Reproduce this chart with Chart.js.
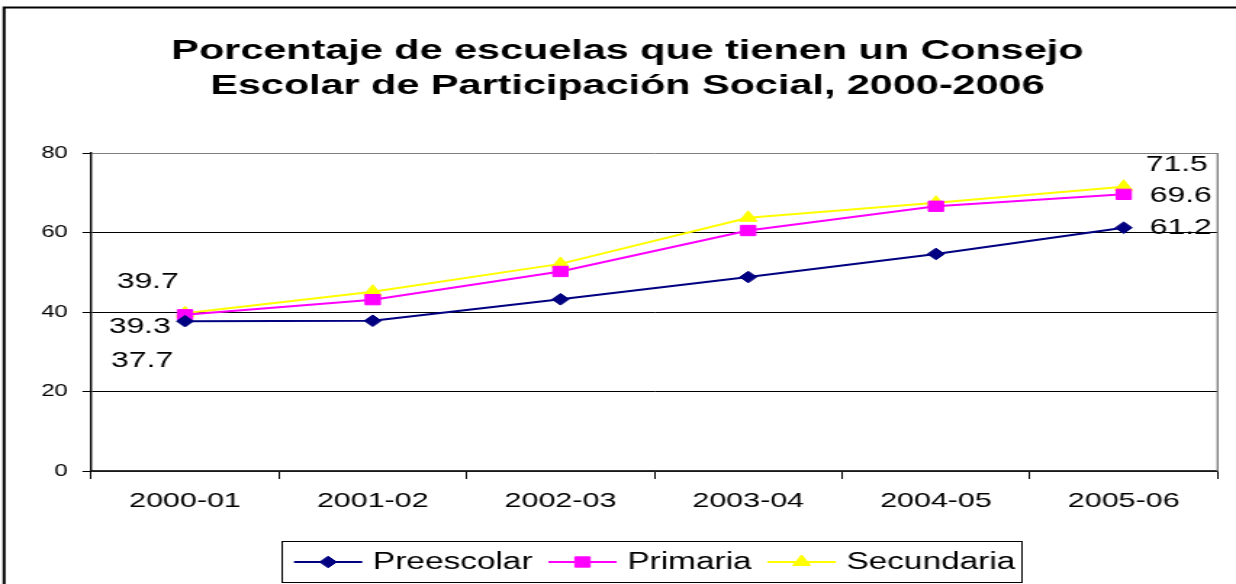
<!DOCTYPE html>
<html>
<head>
<meta charset="utf-8">
<script src="https://cdn.jsdelivr.net/npm/chart.js@4/dist/chart.umd.min.js"></script>
<style>
  html, body { margin: 0; padding: 0; background: #fff; }
  #c { display: block; width: 1236px; height: 584px; }
</style>
</head>
<body>
<canvas id="c" width="852" height="584" style="width:1236px;height:584px;"></canvas>
<script>
// ---- data ----
const titleLines = ['Porcentaje de escuelas que tienen un Consejo', 'Escolar de Participación Social, 2000-2006'];
const categories = ['2000-01', '2001-02', '2002-03', '2003-04', '2004-05', '2005-06'];
const seriesNames = ['Preescolar', 'Primaria', 'Secundaria'];
const preescolar = [37.7, 37.8, 43.2, 48.8, 54.6, 61.2];
const primaria   = [39.3, 43.1, 50.2, 60.5, 66.6, 69.6];
const secundaria = [39.7, 45.1, 52.1, 63.7, 67.5, 71.5];
const yTicks = [0, 20, 40, 60, 80];

// ---- layout / style ----
const FONT = '"Liberation Sans", Arial, sans-serif';
const colors = ['#000080', '#FF00FF', '#FFFF00'];
const pStyles = ['rectRot', 'rect', 'triangle'];
const pRadius = [5.8, 7.3, 7];
// label offsets (internal px) for first and last point of each series
const labelOffsets = [
  { first: [-29.5, 39], last: [39.3, -1] },
  { first: [-31.2, 11], last: [39.3, 1] },
  { first: [-25.7, -32], last: [36.5, -23] }
];

const bgPlugin = {
  id: 'bg',
  beforeDraw(chart) {
    const ctx = chart.ctx;
    ctx.save();
    ctx.fillStyle = '#fff';
    ctx.fillRect(0, 0, chart.width, chart.height);
    ctx.strokeStyle = '#000';
    ctx.lineWidth = 2;
    ctx.beginPath();
    ctx.moveTo(2.8, chart.height + 5);
    ctx.lineTo(2.8, 7.5);
    ctx.lineTo(chart.width + 5, 7.5);
    ctx.stroke();
    // title
    ctx.fillStyle = '#000';
    ctx.font = 'bold 28.5px ' + FONT;
    ctx.textAlign = 'center';
    ctx.textBaseline = 'alphabetic';
    ctx.fillText(titleLines[0], 432.5, 58.5);
    ctx.fillText(titleLines[1], 432.5, 93.5);
    ctx.restore();
  },
  beforeDatasetsDraw(chart) {
    const { ctx, chartArea } = chart;
    ctx.save();
    ctx.strokeStyle = '#808080';
    ctx.lineWidth = 1.4;
    ctx.beginPath();
    ctx.moveTo(chartArea.right, chartArea.top);
    ctx.lineTo(chartArea.right, chartArea.bottom);
    ctx.stroke();
    ctx.restore();
  },
  afterDatasetsDraw(chart) {
    const ctx = chart.ctx;
    ctx.save();
    ctx.fillStyle = '#000';
    ctx.font = '22px ' + FONT;
    ctx.textAlign = 'center';
    ctx.textBaseline = 'middle';
    chart.data.datasets.forEach((ds, i) => {
      const meta = chart.getDatasetMeta(i);
      const n = meta.data.length;
      [[0, 'first'], [n - 1, 'last']].forEach(([idx, key]) => {
        const pt = meta.data[idx];
        const off = labelOffsets[i][key];
        ctx.fillText(ds.data[idx].toFixed(1), pt.x + off[0], pt.y + off[1] + 1);
      });
    });
    ctx.restore();
  },
  afterDraw(chart) {
    const ctx = chart.ctx;
    ctx.save();
    // legend box
    ctx.strokeStyle = '#000';
    ctx.lineWidth = 1;
    ctx.strokeRect(194.5, 541.5, 510, 41);
    ctx.font = '23px ' + FONT;
    ctx.textBaseline = 'middle';
    ctx.textAlign = 'left';
    let x = 202.7;
    const y = 562;
    chart.data.datasets.forEach((ds, i) => {
      ctx.strokeStyle = ds.borderColor;
      ctx.fillStyle = ds.borderColor;
      ctx.lineWidth = 2;
      ctx.beginPath();
      ctx.moveTo(x, y);
      ctx.lineTo(x + 47, y);
      ctx.stroke();
      ctx.lineWidth = 1;
      Chart.helpers.drawPoint(ctx, {
        pointStyle: ds.pointStyle, radius: ds.pointRadius, rotation: 0, borderWidth: 1
      }, x + 23.5, y);
      ctx.fillStyle = '#000';
      ctx.fillText(ds.label, x + 54.4, y + 1);
      x += 54.4 + ctx.measureText(ds.label).width + 11;
    });
    ctx.restore();
  }
};

const seriesData = [preescolar, primaria, secundaria];
const datasets = seriesData.map((d, i) => ({
  label: seriesNames[i],
  data: d,
  borderColor: colors[i],
  backgroundColor: colors[i],
  pointBackgroundColor: colors[i],
  pointBorderColor: colors[i],
  pointBorderWidth: 1,
  pointStyle: pStyles[i],
  pointRadius: pRadius[i],
  pointHoverRadius: pRadius[i],
  borderWidth: 2,
  tension: 0,
  fill: false
}));

new Chart(document.getElementById('c'), {
  type: 'line',
  data: { labels: categories, datasets: datasets },
  plugins: [bgPlugin],
  options: {
    responsive: false,
    devicePixelRatio: 1,
    animation: false,
    events: [],
    layout: { padding: { top: 153, right: 12.7, bottom: 0, left: 0 } },
    plugins: {
      legend: { display: false },
      title: { display: false },
      tooltip: { enabled: false }
    },
    scales: {
      x: {
        type: 'category',
        offset: true,
        afterFit(scale) { scale.height = 113; },
        grid: {
          offset: true,
          drawOnChartArea: false,
          drawTicks: true,
          tickLength: 8,
          color: '#000',
          lineWidth: 1
        },
        border: { color: '#333', width: 1.5 },
        ticks: {
          color: '#000',
          font: { family: FONT, size: 21 },
          padding: 10,
          maxRotation: 0,
          autoSkip: false
        }
      },
      y: {
        min: 0,
        max: 80,
        afterFit(scale) { scale.width = 62.8; },
        afterBuildTicks(scale) { scale.ticks = yTicks.map(v => ({ value: v })); },
        grid: {
          color: (c) => (c.tick && c.tick.value === 80 ? '#808080' : '#000'),
          tickColor: '#000',
          tickLength: 6,
          lineWidth: 1
        },
        border: { color: '#000', width: 1.4 },
        ticks: {
          color: '#000',
          font: { family: FONT, size: 16.5 },
          padding: 10
        }
      }
    }
  }
});
</script>
</body>
</html>
